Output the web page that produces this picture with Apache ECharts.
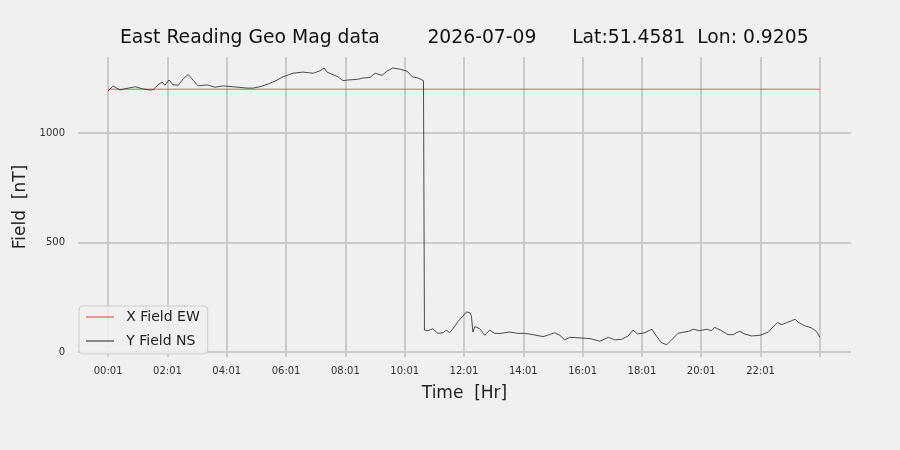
<!DOCTYPE html>
<html>
<head>
<meta charset="utf-8">
<script src="https://cdn.jsdelivr.net/npm/echarts@6/dist/echarts.min.js"></script>
<style>html,body{margin:0;padding:0;background:#f0f0f0;}#c{width:900px;height:450px;}</style>
</head>
<body>
<div id="c"></div>
<script>
// minutes since midnight
const yTimes = [1,11,25,35,56,70,86,92,102,110,116,124,132,143,153,163,173,183,201,217,234,254,282,294,308,325,341,355,375,395,416,430,438,444,456,466,476,486,505,517,531,541,555,565,577,592,606,616,628,639,
  641,642,648,658,668,679,685,692,702,709,719,726,733,736,739,743,753,763,773,783,796,813,830,844,861,881,894,904,915,925,935,956,976,996,1013,1026,1040,1053,1063,1072,1087,1101,1111,1121,1131,1141,1154,1164,1175,1185,1198,1212,1222,1228,1242,1255,1266,1272,1279,1289,1303,1320,1337,1347,1355,1364,1374,1384,1391,1398,1411,1424,1434,1441];
const yValues = [1192,1215,1196,1202,1211,1202,1196,1198,1220,1233,1218,1242,1220,1218,1248,1267,1241,1215,1220,1209,1215,1211,1205,1205,1211,1224,1239,1257,1273,1278,1273,1284,1297,1278,1266,1257,1239,1242,1245,1251,1254,1273,1263,1282,1297,1291,1282,1257,1251,1239,
  100,104,97,106,85,88,100,88,116,140,164,183,179,164,91,116,106,76,100,85,85,91,85,85,79,70,79,88,76,55,67,64,61,49,67,55,58,73,100,82,88,104,70,42,33,55,85,90,94,104,97,104,97,113,97,79,79,88,94,82,73,76,91,116,134,125,134,143,149,134,119,110,94,67];
const xTimes = [1, 1441];
const xValues = [1200, 1200];
const xTickMinutes = [1,121,241,361,481,601,721,841,961,1081,1201,1321,1441];
const xTickLabels = ['00:01','02:01','04:01','06:01','08:01','10:01','12:01','14:01','16:01','18:01','20:01','22:01',''];
const yTickValues = [0, 500, 1000];

const pair = (t, v) => t.map((m, i) => [m, v[i]]);
const font = 'DejaVu Sans';
const chart = echarts.init(document.getElementById('c'), null, {renderer: 'canvas'});
chart.setOption({
  backgroundColor: '#f0f0f0',
  animation: false,
  title: {
    text: 'East Reading Geo Mag data        2026-07-09      Lat:51.4581  Lon: 0.9205',
    left: 115, top: 24,
    textStyle: {fontFamily: font, fontSize: 18.75, fontWeight: 'normal', color: '#111'}
  },
  grid: {left: 78, right: 49, top: 57, bottom: 93, containLabel: false},
  legend: {
    orient: 'vertical', left: 79, top: 306,
    padding: [4, 8, 6, 7], itemGap: 10, itemWidth: 28, itemHeight: 14,
    backgroundColor: 'rgba(240,240,240,0.85)', borderColor: '#cccccc', borderWidth: 1, borderRadius: 4,
    textStyle: {fontFamily: font, fontSize: 14, color: '#222'},
    formatter: name => ' \u2009' + name,
    data: [{name: 'X Field EW', icon: 'path://M0,0L28,0L28,1L0,1Z'}, {name: 'Y Field NS', icon: 'path://M0,0L28,0L28,1L0,1Z'}]
  },
  xAxis: {
    type: 'value', min: -60, max: 1504,
    name: 'Time  [Hr]', nameLocation: 'middle', nameGap: 28,
    nameTextStyle: {fontFamily: font, fontSize: 17, color: '#222'},
    axisLine: {show: false},
    axisTick: {show: false, customValues: xTickMinutes},
    axisLabel: {customValues: xTickMinutes, fontFamily: font, fontSize: 10, color: '#333', margin: 9,
      formatter: v => xTickLabels[xTickMinutes.indexOf(v)] ?? ''},
    splitLine: {show: true, lineStyle: {color: '#cbcbcb', width: 2}}
  },
  yAxis: {
    type: 'value', min: -23, max: 1347,
    name: 'Field  [nT]', nameLocation: 'middle', nameGap: 42,
    nameTextStyle: {fontFamily: font, fontSize: 17, color: '#222'},
    axisLine: {show: false},
    axisTick: {show: false, customValues: yTickValues},
    axisLabel: {customValues: yTickValues, fontFamily: font, fontSize: 10, color: '#333', margin: 13,
      formatter: v => String(v)},
    splitLine: {show: true, lineStyle: {color: '#cbcbcb', width: 2}}
  },
  series: [
    {name: 'X Field EW', type: 'line', data: pair(xTimes, xValues), symbol: 'none',
      lineStyle: {color: '#e03a3a', width: 0.8}, itemStyle: {color: '#e03a3a'}},
    {name: 'Y Field NS', type: 'line', data: pair(yTimes, yValues), symbol: 'none',
      lineStyle: {color: '#222', width: 0.8}, itemStyle: {color: '#222'}}
  ]
});
</script>
</body>
</html>
